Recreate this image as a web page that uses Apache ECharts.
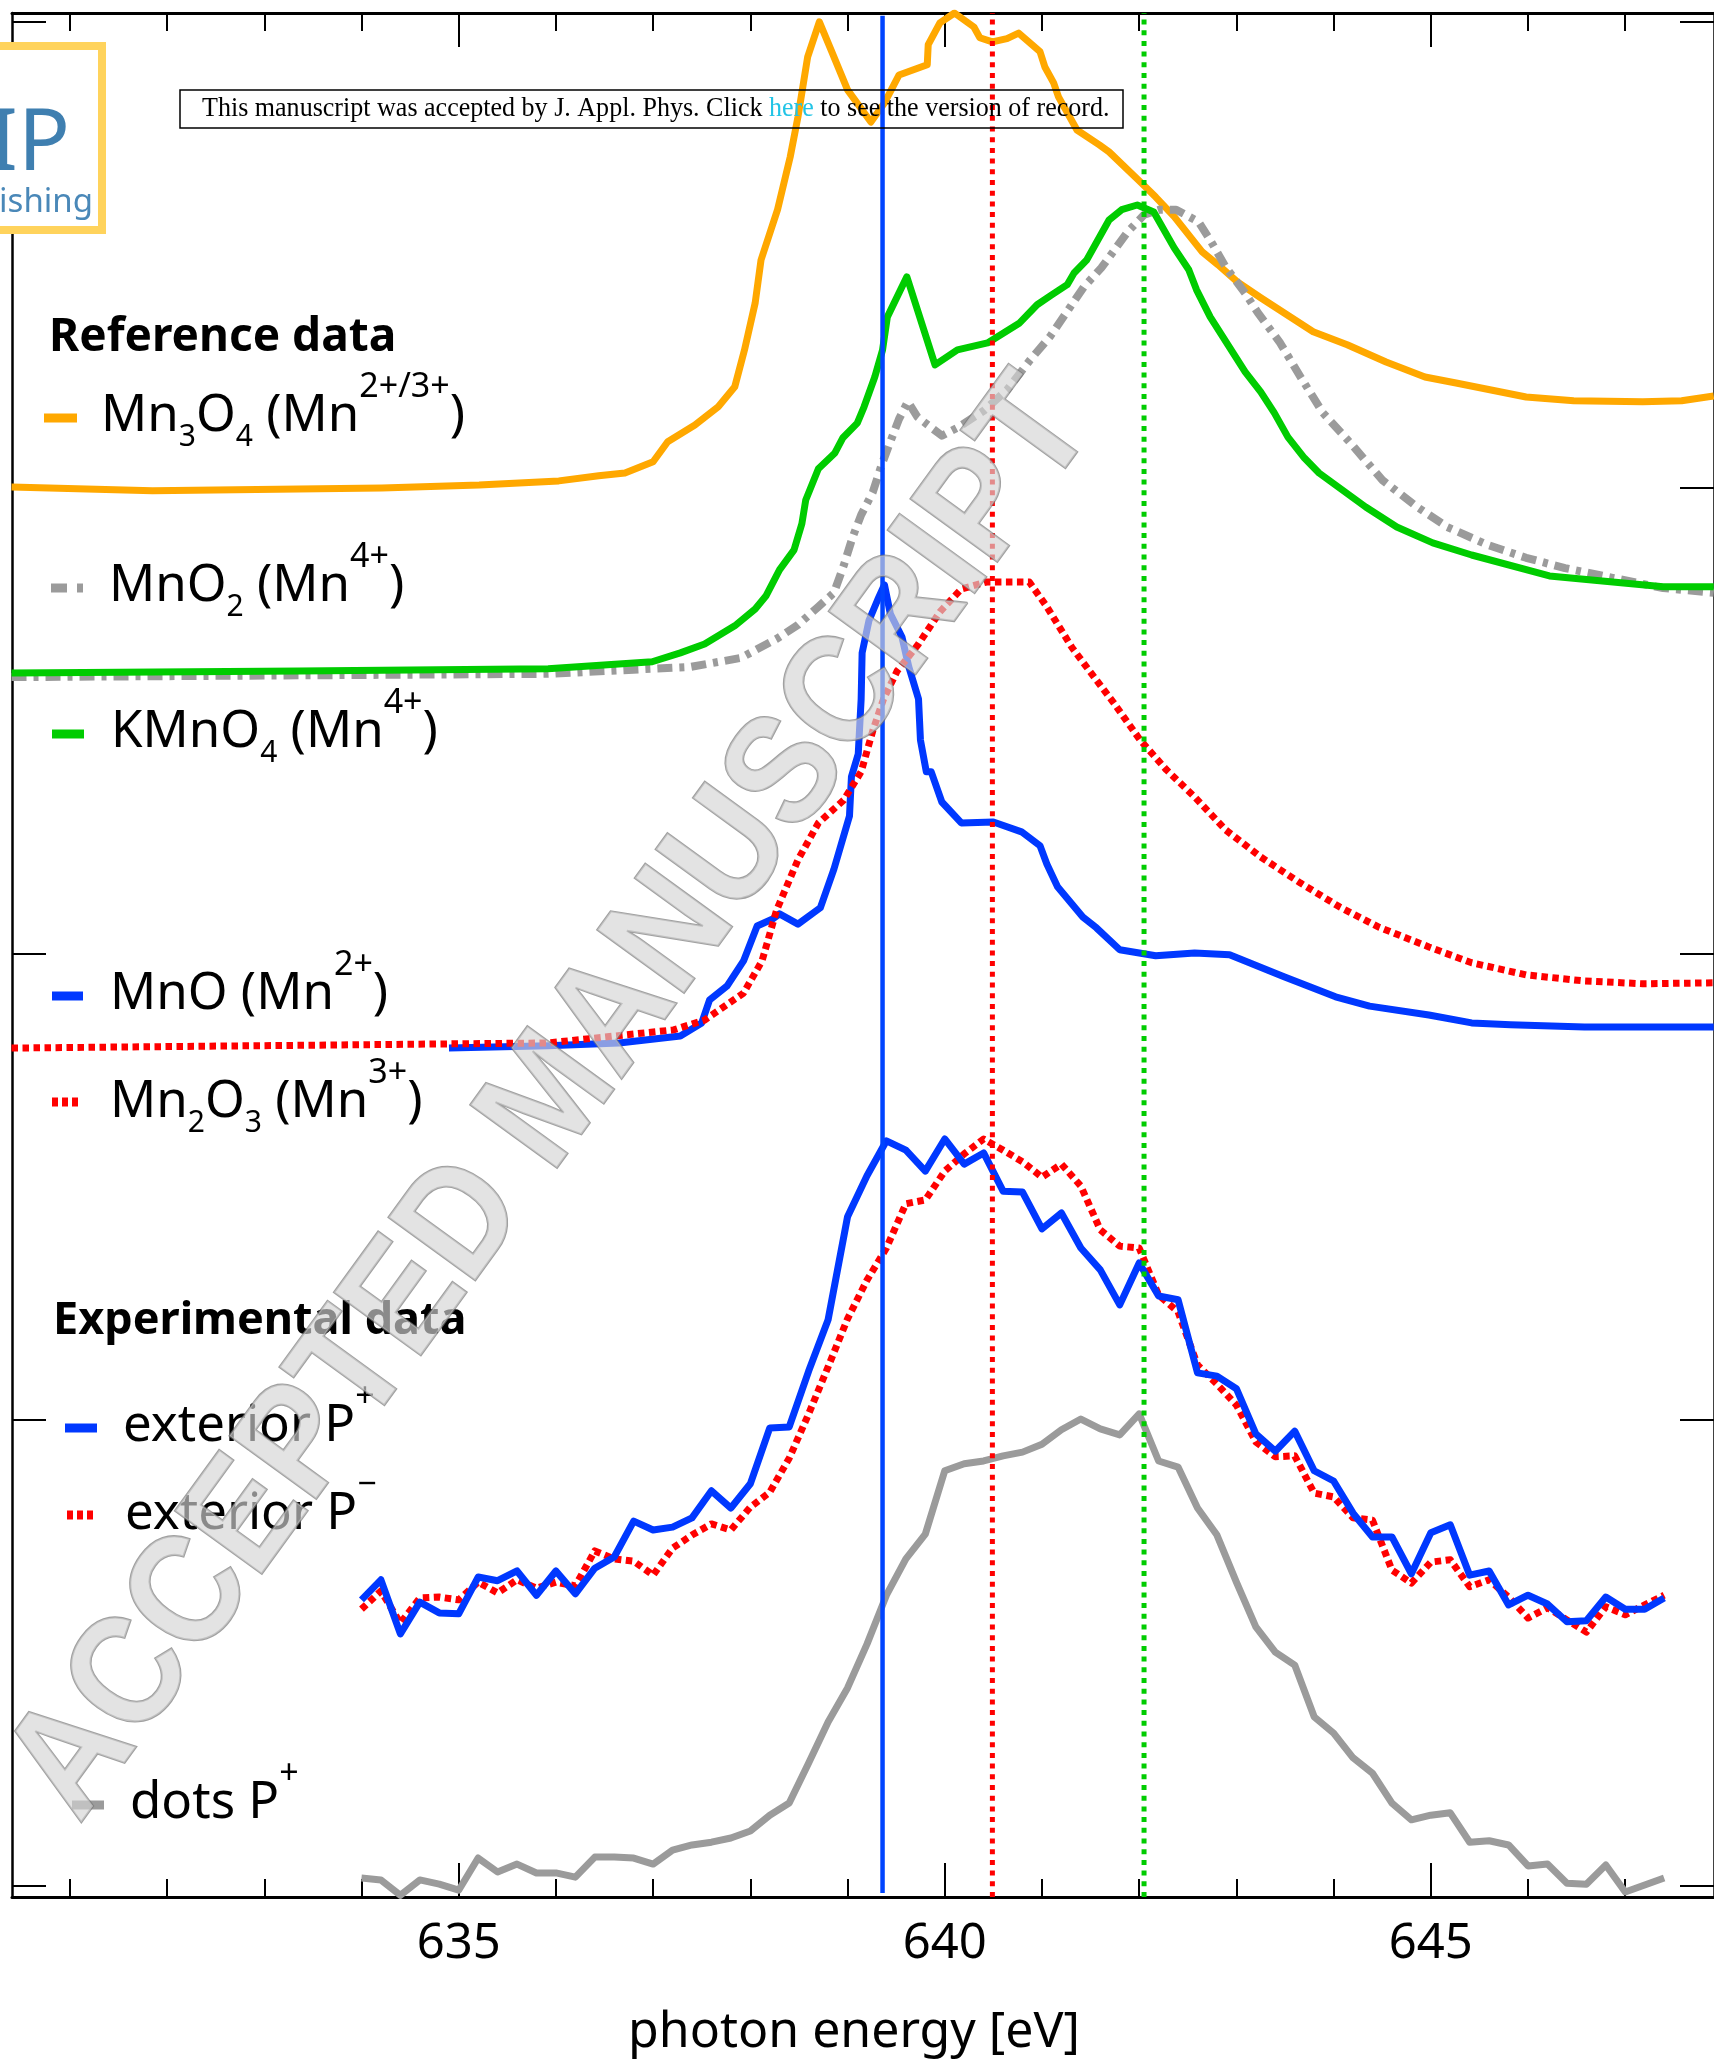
<!DOCTYPE html>
<html><head><meta charset="utf-8">
<script src="https://cdn.jsdelivr.net/npm/echarts@6/dist/echarts.min.js"></script>
<style>html,body{margin:0;padding:0;background:#fff}#c{width:1714px;height:2061px}</style>
</head><body><div id="c"></div>
<script>
// ---------------- data (photon energy [eV], intensity offset in arbitrary units) ----------------
const xMajorTicks = [635, 640, 645];
const xMinorTicks = [631, 632, 633, 634, 636, 637, 638, 639, 641, 642, 643, 644, 646, 647];
const yTicks = [0, 1, 2, 3, 4];

const mn3o4 = [[630.40,3.002],[631.85,2.994],[634.21,3.000],[635.21,3.006],[636.03,3.015],[636.44,3.026],[636.71,3.032],[637.00,3.056],[637.15,3.099],[637.43,3.135],[637.67,3.174],[637.84,3.217],[637.94,3.296],[638.05,3.397],[638.11,3.489],[638.28,3.597],[638.41,3.710],[638.49,3.796],[638.59,3.925],[638.71,4.000],[638.83,3.940],[639.00,3.854],[639.24,3.785],[639.38,3.826],[639.53,3.886],[639.82,3.908],[639.83,3.951],[639.95,3.998],[640.10,4.019],[640.30,3.989],[640.36,3.966],[640.49,3.957],[640.64,3.964],[640.76,3.976],[640.98,3.936],[641.03,3.903],[641.12,3.869],[641.17,3.839],[641.36,3.768],[641.59,3.736],[641.69,3.721],[642.01,3.657],[642.17,3.624],[642.36,3.582],[642.65,3.506],[642.81,3.479],[643.01,3.442],[643.25,3.408],[643.79,3.335],[644.14,3.307],[644.54,3.270],[644.94,3.238],[645.26,3.225],[645.98,3.195],[646.47,3.187],[647.18,3.185],[647.58,3.187],[647.91,3.197]];

const mno2 = [[630.40,2.594],[635.92,2.601],[637.39,2.616],[637.90,2.635],[638.27,2.676],[638.49,2.706],[638.70,2.745],[638.86,2.775],[638.96,2.833],[639.05,2.893],[639.14,2.942],[639.26,2.991],[639.35,3.049],[639.44,3.099],[639.53,3.148],[639.62,3.185],[639.72,3.152],[639.97,3.112],[640.13,3.129],[640.41,3.167],[640.64,3.210],[640.88,3.275],[641.08,3.324],[641.29,3.388],[641.43,3.431],[641.61,3.472],[641.73,3.506],[641.88,3.549],[642.05,3.586],[642.21,3.597],[642.38,3.597],[642.61,3.571],[642.73,3.532],[642.89,3.474],[643.09,3.418],[643.22,3.376],[643.45,3.311],[643.66,3.238],[643.89,3.161],[644.17,3.097],[644.50,3.017],[644.86,2.959],[645.17,2.916],[645.58,2.878],[645.98,2.850],[646.38,2.828],[646.87,2.807],[647.39,2.785],[647.91,2.775]];

const kmno4 = [[630.40,2.603],[633.36,2.607],[635.92,2.612],[636.99,2.627],[637.28,2.646],[637.53,2.665],[637.84,2.704],[638.05,2.740],[638.16,2.768],[638.30,2.824],[638.45,2.867],[638.53,2.923],[638.57,2.974],[638.70,3.041],[638.87,3.075],[638.95,3.107],[639.10,3.139],[639.17,3.174],[639.28,3.238],[639.36,3.296],[639.41,3.367],[639.61,3.453],[639.90,3.264],[640.13,3.296],[640.44,3.311],[640.77,3.354],[640.95,3.393],[641.10,3.414],[641.26,3.436],[641.33,3.461],[641.46,3.489],[641.69,3.575],[641.82,3.597],[641.98,3.607],[642.15,3.592],[642.36,3.515],[642.51,3.468],[642.59,3.425],[642.73,3.367],[643.09,3.249],[643.25,3.206],[643.39,3.161],[643.53,3.109],[643.70,3.064],[643.85,3.032],[644.33,2.959],[644.65,2.916],[645.02,2.882],[645.42,2.856],[646.22,2.811],[647.39,2.788],[647.91,2.788]];

const mno = [[634.90,1.798],[635.92,1.803],[636.65,1.809],[637.28,1.824],[637.50,1.852],[637.58,1.901],[637.76,1.931],[637.93,1.985],[638.07,2.060],[638.23,2.075],[638.30,2.086],[638.49,2.064],[638.72,2.099],[638.86,2.182],[639.02,2.296],[639.04,2.380],[639.11,2.429],[639.14,2.547],[639.15,2.646],[639.22,2.715],[639.31,2.760],[639.38,2.792],[639.44,2.730],[639.56,2.680],[639.63,2.616],[639.73,2.547],[639.75,2.459],[639.81,2.391],[639.86,2.391],[639.97,2.326],[640.17,2.281],[640.50,2.283],[640.79,2.262],[640.98,2.232],[641.05,2.193],[641.16,2.144],[641.42,2.079],[641.56,2.056],[641.80,2.009],[642.17,1.996],[642.57,2.002],[642.93,1.998],[643.49,1.951],[644.02,1.908],[644.37,1.888],[644.98,1.869],[645.42,1.852],[645.82,1.848],[646.58,1.843],[647.91,1.843]];

const mn2o3 = [[630.40,1.798],[635.92,1.809],[637.21,1.837],[637.53,1.858],[637.93,1.916],[638.12,1.985],[638.27,2.094],[638.49,2.202],[638.70,2.281],[638.96,2.330],[639.14,2.391],[639.26,2.479],[639.37,2.547],[639.51,2.607],[639.73,2.665],[639.95,2.734],[640.17,2.783],[640.43,2.798],[640.87,2.798],[641.05,2.745],[641.31,2.657],[641.49,2.607],[641.73,2.541],[642.01,2.459],[642.28,2.395],[642.57,2.337],[642.89,2.266],[643.25,2.208],[643.66,2.152],[644.06,2.101],[644.46,2.058],[644.98,2.015],[645.42,1.981],[645.98,1.955],[646.58,1.942],[647.18,1.936],[647.91,1.938]];

const expEnergy = [634.0,634.2,634.4,634.6,634.8,635.0,635.2,635.4,635.6,635.8,636.0,636.2,636.4,636.6,636.8,637.0,637.2,637.4,637.6,637.8,638.0,638.2,638.4,638.6,638.8,639.0,639.2,639.4,639.6,639.8,640.0,640.2,640.4,640.6,640.8,641.0,641.2,641.4,641.6,641.8,642.0,642.2,642.4,642.6,642.8,643.0,643.2,643.4,643.6,643.8,644.0,644.2,644.4,644.6,644.8,645.0,645.2,645.4,645.6,645.8,646.0,646.2,646.4,646.6,646.8,647.0,647.2,647.4];

const exteriorPplus = [0.614,0.657,0.541,0.609,0.586,0.584,0.663,0.655,0.676,0.624,0.676,0.627,0.682,0.706,0.783,0.764,0.770,0.790,0.848,0.811,0.863,0.983,0.985,1.105,1.215,1.436,1.524,1.599,1.579,1.534,1.603,1.549,1.573,1.491,1.489,1.410,1.444,1.369,1.322,1.247,1.337,1.266,1.258,1.101,1.094,1.067,0.970,0.933,0.976,0.891,0.869,0.800,0.749,0.749,0.670,0.758,0.775,0.667,0.676,0.603,0.624,0.605,0.567,0.569,0.620,0.594,0.594,0.618];

const exteriorPminus = [0.594,0.633,0.564,0.618,0.620,0.614,0.652,0.629,0.657,0.639,0.652,0.644,0.719,0.702,0.697,0.667,0.725,0.753,0.777,0.764,0.813,0.845,0.918,1.013,1.114,1.217,1.300,1.369,1.464,1.472,1.534,1.571,1.603,1.579,1.554,1.521,1.549,1.502,1.408,1.373,1.369,1.268,1.232,1.118,1.077,1.032,0.953,0.921,0.923,0.843,0.835,0.790,0.785,0.678,0.650,0.695,0.700,0.642,0.657,0.620,0.575,0.597,0.571,0.545,0.599,0.582,0.603,0.624];

const dotsPplus = [0.017,0.013,-0.020,0.013,0.004,-0.009,0.060,0.030,0.047,0.028,0.028,0.019,0.062,0.062,0.060,0.047,0.077,0.088,0.094,0.103,0.118,0.152,0.178,0.264,0.352,0.425,0.519,0.624,0.702,0.755,0.891,0.906,0.912,0.923,0.931,0.948,0.979,1.002,0.981,0.968,1.013,0.912,0.899,0.811,0.753,0.652,0.556,0.502,0.474,0.363,0.328,0.275,0.242,0.178,0.142,0.152,0.157,0.094,0.097,0.088,0.043,0.047,0.006,0.004,0.045,-0.013,0.002,0.017];

// vertical guide lines (eV)
const guideMnO = 639.36, guideMn2O3 = 640.49, guideKMnO4 = 642.05;

const X_MIN = 630.405, X_MAX = 647.913, Y_MIN = -0.0236, Y_MAX = 4.019;

// ---------------- chart ----------------
const F = "'Noto Sans', sans-serif";
const BLUE = '#0038ff', RED = '#ff0000', GREEN = '#00cc00', ORANGE = '#ffa800', GREY = '#9b9b9b';
const DOT = [6.5, 4.5], DASHDOT = [15, 7, 5, 7], VDOT = [5, 5.7];

const zip = (xs, ys) => xs.map((x, i) => [x, ys[i]]);
function ln(name, data, color, width, dash, z) {
  return { type: 'line', name, data, showSymbol: false, symbol: 'none', silent: true, z: z || 2,
    lineStyle: { color, width, type: dash || 'solid', cap: 'butt', join: 'round' } };
}
function xAx(pos, ticks, len, showLine, labels) {
  return { type: 'value', position: pos, min: X_MIN, max: X_MAX, splitLine: { show: false },
    axisLine: { show: showLine, onZero: false, lineStyle: { color: '#000', width: 3 } },
    axisTick: { show: true, inside: true, length: len, customValues: ticks, lineStyle: { color: '#000', width: 2 } },
    axisLabel: labels ? { show: true, customValues: ticks, fontSize: 49, fontFamily: F, color: '#000', margin: 23 } : { show: false } };
}
function yAx(pos) {
  return { type: 'value', position: pos, min: Y_MIN, max: Y_MAX, splitLine: { show: false },
    axisLine: { show: true, onZero: false, lineStyle: { color: '#000', width: 2.5 } },
    axisTick: { show: true, inside: true, length: 34, customValues: yTicks, lineStyle: { color: '#000', width: 2 } },
    axisLabel: { show: false } };
}

const rich = {
  n: { fontSize: 51, fontFamily: F, fill: '#000' },
  sb: { fontSize: 30, fontFamily: F, fill: '#000', padding: [42, 0, 0, 0] },
  sp: { fontSize: 34, fontFamily: F, fill: '#000', padding: [0, 0, 58, 0] }
};
function label(x, y, text) {
  return { type: 'text', x, y, z: 10, silent: true,
    style: { text, rich, textVerticalAlign: 'middle', textAlign: 'left' } };
}
function sample(x1, x2, y, color, dash) {
  return { type: 'line', z: 10, silent: true, shape: { x1, y1: y, x2, y2: y },
    style: { stroke: color, lineWidth: 9, lineDash: dash || null, lineCap: 'butt' } };
}
function header(x, y, text, size) {
  return { type: 'text', x, y, z: 10, silent: true,
    style: { text, fontSize: size, fontWeight: 'bold', fontFamily: F, fill: '#000', textVerticalAlign: 'middle' } };
}

const chart = echarts.init(document.getElementById('c'), null, { renderer: 'canvas' });
chart.setOption({
  animation: false,
  backgroundColor: '#fff',
  grid: { left: 12, top: 13, width: 1707, height: 1884, containLabel: false },
  xAxis: [
    xAx('bottom', xMajorTicks, 34, true, true),
    xAx('bottom', xMinorTicks, 18, false, false),
    xAx('top', xMajorTicks, 34, true, false),
    xAx('top', xMinorTicks, 18, false, false)
  ],
  yAxis: [yAx('left'), yAx('right')],
  series: [
    ln('Mn3O4', mn3o4, ORANGE, 7),
    ln('MnO2', mno2, GREY, 8, DASHDOT),
    ln('KMnO4', kmno4, GREEN, 7),
    ln('MnO', mno, BLUE, 7),
    ln('Mn2O3', mn2o3, RED, 7, DOT),
    ln('exterior P-', zip(expEnergy, exteriorPminus), RED, 7, DOT),
    ln('exterior P+', zip(expEnergy, exteriorPplus), BLUE, 7),
    ln('dots P+', zip(expEnergy, dotsPplus), GREY, 7),
    ln('guide MnO', [[guideMnO, -0.015], [guideMnO, 4.013]], '#0044ff', 4.5, null, 5),
    ln('guide Mn2O3', [[guideMn2O3, Y_MIN], [guideMn2O3, Y_MAX]], RED, 5, VDOT, 5),
    ln('guide KMnO4', [[guideKMnO4, Y_MIN], [guideKMnO4, Y_MAX]], GREEN, 5, VDOT, 5)
  ],
  graphic: [
    header(49, 338, 'Reference data', 46),
    sample(44, 77, 418, ORANGE),
    label(101, 416, '{n|Mn}{sb|3}{n|O}{sb|4}{n| (Mn}{sp|2+/3+}{n|)}'),
    sample(51, 83, 588, GREY, [16, 10, 6, 20]),
    label(109, 586, '{n|MnO}{sb|2}{n| (Mn}{sp|4+}{n|)}'),
    sample(52, 84, 734, GREEN),
    label(111, 732, '{n|KMnO}{sb|4}{n| (Mn}{sp|4+}{n|)}'),
    sample(52, 83, 996, BLUE),
    label(110, 994, '{n|MnO (Mn}{sp|2+}{n|)}'),
    sample(52, 80, 1102, RED, [6, 4]),
    label(110, 1102, '{n|Mn}{sb|2}{n|O}{sb|3}{n| (Mn}{sp|3+}{n|)}'),
    header(53, 1321, 'Experimental data', 45),
    sample(65, 97, 1428, BLUE),
    label(123, 1426, '{n|exterior P}{sp|+}'),
    sample(67, 97, 1515, RED, [6, 4]),
    label(125, 1514, '{n|exterior P}{sp|\u2212}'),
    sample(72, 104, 1805, GREY),
    label(130, 1803, '{n|dots P}{sp|+}'),
    // axis title
    { type: 'text', x: 854, y: 2033, z: 10, silent: true,
      style: { text: 'photon energy [eV]', fontSize: 50, fontFamily: F, fill: '#000', textAlign: 'center', textVerticalAlign: 'middle' } },
    // accepted-manuscript notice box
    { type: 'rect', z: 12, silent: true, shape: { x: 180, y: 90, width: 943, height: 38 },
      style: { fill: 'rgba(255,255,255,0)', stroke: '#000', lineWidth: 1.5 } },
    { type: 'text', x: 202, y: 109, scaleX: 0.93, z: 12, silent: true,
      style: { text: '{a|This manuscript was accepted by J. Appl. Phys. Click }{h|here}{a| to see the version of record.}',
        textVerticalAlign: 'middle',
        rich: { a: { fontSize: 28, fontFamily: "'Liberation Serif', serif", fill: '#000' },
                h: { fontSize: 28, fontFamily: "'Liberation Serif', serif", fill: '#22c4e6' } } } },
    // publisher logo (clipped at the left edge)
    { type: 'rect', z: 30, silent: true, shape: { x: -20, y: 46, width: 122, height: 184 },
      style: { fill: '#fff', stroke: '#ffd35c', lineWidth: 8 } },
    { type: 'text', x: 70, y: 145, z: 31, silent: true,
      style: { text: 'AIP', fontSize: 86, fontFamily: F, fill: '#3f7fb0', textAlign: 'right', textVerticalAlign: 'middle' } },
    { type: 'text', x: 93, y: 203, z: 31, silent: true,
      style: { text: 'Publishing', fontSize: 33, fontFamily: F, fill: '#4a88b8', textAlign: 'right', textVerticalAlign: 'middle' } },
    // watermark
    { type: 'text', x: 553, y: 1100, rotation: 54 * Math.PI / 180, scaleY: 1.12, z: 20, silent: true,
      style: { text: 'ACCEPTED MANUSCRIPT', fontSize: 139, fontWeight: 'bold', fontFamily: "'Liberation Sans', sans-serif",
        fill: 'rgba(212,212,212,0.65)', stroke: 'rgba(120,120,120,0.7)', lineWidth: 2,
        shadowColor: 'rgba(0,0,0,0.35)', shadowBlur: 6, shadowOffsetX: 5, shadowOffsetY: 6,
        textAlign: 'center', textVerticalAlign: 'middle' } }
  ]
});
</script></body></html>
